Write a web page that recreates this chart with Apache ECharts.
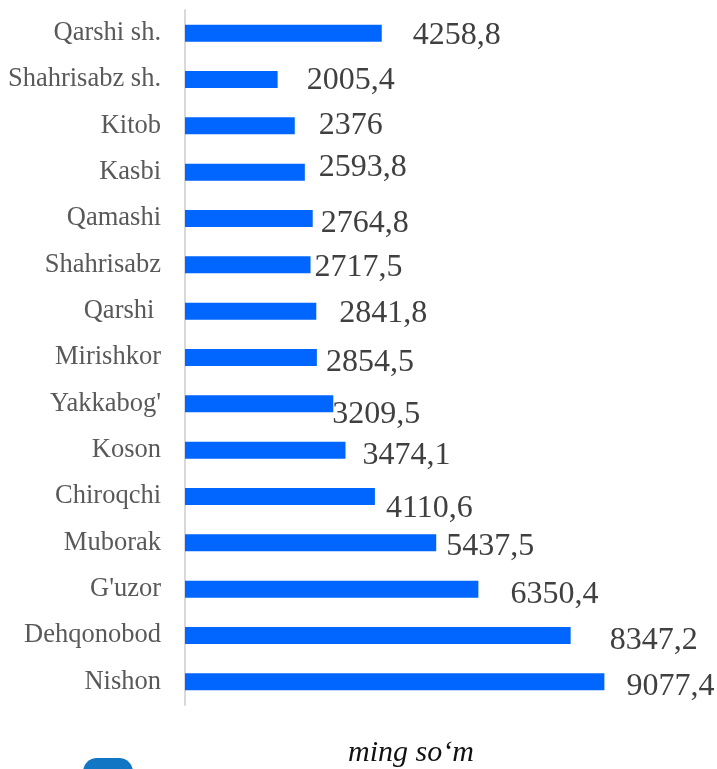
<!DOCTYPE html>
<html>
<head>
<meta charset="utf-8">
<script src="https://cdn.jsdelivr.net/npm/echarts@6/dist/echarts.min.js"></script>
<style>
  html, body { margin: 0; padding: 0; background: #fff; }
  #chart { width: 717px; height: 769px; }
</style>
</head>
<body>
<div id="chart"></div>
<script>
// districts, top to bottom
const districts = [
  "Qarshi sh.", "Shahrisabz sh.", "Kitob", "Kasbi", "Qamashi", "Shahrisabz",
  "Qarshi ", "Mirishkor", "Yakkabog'", "Koson", "Chiroqchi", "Muborak",
  "G'uzor", "Dehqonobod", "Nishon"
];
const values = [
  4258.8, 2005.4, 2376, 2593.8, 2764.8, 2717.5,
  2841.8, 2854.5, 3209.5, 3474.1, 4110.6, 5437.5,
  6350.4, 8347.2, 9077.4
];
const unitText = "ming so\u2018m";

// hand-placed label nudges like in the source picture [dx, dy]
const labelNudge = [
  [31, 2], [29, 1], [24, 0], [14, -5], [8, 5], [4, 3],
  [23, 2], [9, 5], [-1, 11], [17, 5], [11, 12], [10, 4],
  [32, 5], [39, 5], [22, 5]
];

const serif = "'Liberation Serif', 'Times New Roman', serif";

let chart = echarts.init(document.getElementById("chart"));
let option = {
  animation: false,
  grid: {
    left: 185,
    top: 10,
    width: 462,
    height: 695,
    containLabel: false
  },
  xAxis: {
    type: "value",
    min: 0,
    max: 10000,
    show: false
  },
  yAxis: {
    type: "category",
    inverse: true,
    data: districts,
    axisLine: {
      show: true,
      lineStyle: { color: "#d9d9d9", width: 2 }
    },
    axisTick: { show: false },
    axisLabel: {
      margin: 24,
      fontFamily: serif,
      fontSize: 26.5,
      color: "#595959"
    }
  },
  series: [
    {
      type: "bar",
      barWidth: 17,
      itemStyle: { color: "#0066ff" },
      data: values.map((v, i) => ({
        value: v,
        label: { offset: labelNudge[i] }
      })),
      label: {
        show: true,
        position: "right",
        distance: 0,
        fontFamily: serif,
        fontSize: 32,
        color: "#404040",
        formatter: (p) => String(p.value).replace(".", ",")
      }
    }
  ],
  graphic: [
    {
      type: "text",
      x: 411,
      y: 753,
      style: {
        text: unitText,
        fontFamily: serif,
        fontStyle: "italic",
        fontSize: 30,
        fill: "#111",
        textAlign: "center",
        textVerticalAlign: "middle"
      }
    },
    {
      type: "rect",
      shape: { x: 83, y: 758, width: 50, height: 30, r: 14 },
      style: { fill: "#1176c4" }
    }
  ]
};

chart.setOption(option);
window.addEventListener("resize", () => {
  chart.resize();
});
</script>
</body>
</html>
